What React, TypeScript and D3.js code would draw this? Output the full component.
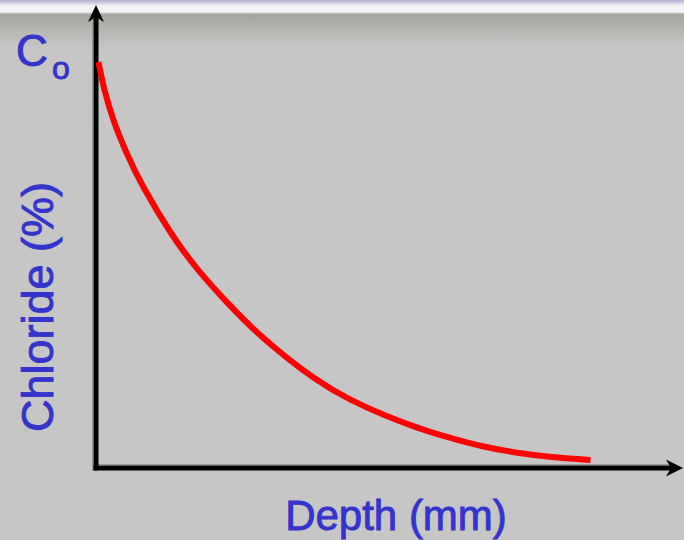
import React from "react";
import * as d3 from "d3";

const depth = [0, 0.5, 1.5, 2.9, 4.2, 7.4, 9.9, 12.9, 16.2, 21.9, 25.2, 28.5, 31.9, 35.2, 38.5, 41.9, 45.2, 49.2];
const chloride = [100, 93.6, 85.1, 76.9, 70.0, 56.7, 48.5, 40.3, 31.9, 20.8, 16.3, 12.6, 9.4, 6.9, 4.7, 3.2, 2.2, 1.5];
const xLabel = "Depth (mm)";
const yLabel = "Chloride (%)";

const W = 684;
const H = 540;

export default function App() {
  const x = d3.scaleLinear().domain([0, 50]).range([98.5, 598.5]);
  const y = d3.scaleLinear().domain([0, 100]).range([466, 62]);
  const pts = depth.map((d, i) => [d, chloride[i]] as [number, number]);
  const line = d3
    .line<[number, number]>()
    .x((d) => x(d[0]))
    .y((d) => y(d[1]))
    .curve(d3.curveBasis);

  const ax = 96; // y-axis x position
  const ay = 468; // x-axis y position
  const topY = 5;
  const rightX = 683;
  const blue = "#3434cc";
  const textStyle = { stroke: blue, strokeWidth: 0.9, paintOrder: "stroke" as const };

  return (
    <svg
      width={W}
      height={H}
      style={{ position: "absolute", left: 0, top: 0, display: "block" }}
      fontFamily="Liberation Sans, Arial, sans-serif"
    >
      <defs>
        <linearGradient id="topband" x1="0" y1="0" x2="0" y2="1">
          <stop offset="0" stopColor="#b4aacb" />
          <stop offset="0.07" stopColor="#d8d2e6" />
          <stop offset="0.12" stopColor="#f4f2f8" />
          <stop offset="0.25" stopColor="#f2f2f2" />
          <stop offset="0.3" stopColor="#a3a49c" />
          <stop offset="0.55" stopColor="#b2b2ae" />
          <stop offset="1" stopColor="#c6c6c6" />
        </linearGradient>
      </defs>
      <rect x={0} y={0} width={W} height={H} fill="#c6c6c6" />
      <rect x={0} y={0} width={W} height={48} fill="url(#topband)" />

      {/* axes shadow */}
      <line x1={ax - 3.5} y1={topY + 14} x2={ax - 3.5} y2={ay + 3} stroke="#9a9a9a" strokeWidth={1} />
      <line x1={ax - 3} y1={ay - 3.5} x2={rightX - 14} y2={ay - 3.5} stroke="#9a9a9a" strokeWidth={1} />

      {/* axes */}
      <line x1={ax} y1={topY + 12} x2={ax} y2={ay + 2.5} stroke="#000" strokeWidth={5} />
      <line x1={ax - 2.5} y1={ay} x2={rightX - 12} y2={ay} stroke="#000" strokeWidth={5} />
      <path
        d={`M${ax},${topY} L${ax + 8},${topY + 17} L${ax},${topY + 12} L${ax - 8},${topY + 17} Z`}
        fill="#000"
      />
      <path
        d={`M${rightX},${ay} L${rightX - 17},${ay + 8.5} L${rightX - 12},${ay} L${rightX - 17},${ay - 8.5} Z`}
        fill="#000"
      />

      {/* curve */}
      <path d={line(pts) || ""} fill="none" stroke="#ff0000" strokeWidth={6} strokeLinecap="butt" />

      {/* labels */}
      <text x={16} y={66} fontSize={44} fill={blue} style={textStyle}>
        C
      </text>
      <text x={52} y={79} fontSize={32} fill={blue} style={textStyle}>
        o
      </text>
      <text
        transform={`translate(53,307) rotate(-90)`}
        textAnchor="middle"
        fontSize={45}
        fill={blue}
        style={textStyle}
      >
        {yLabel}
      </text>
      <text x={396} y={530} textAnchor="middle" fontSize={42} fill={blue} style={textStyle}>
        {xLabel}
      </text>
    </svg>
  );
}
